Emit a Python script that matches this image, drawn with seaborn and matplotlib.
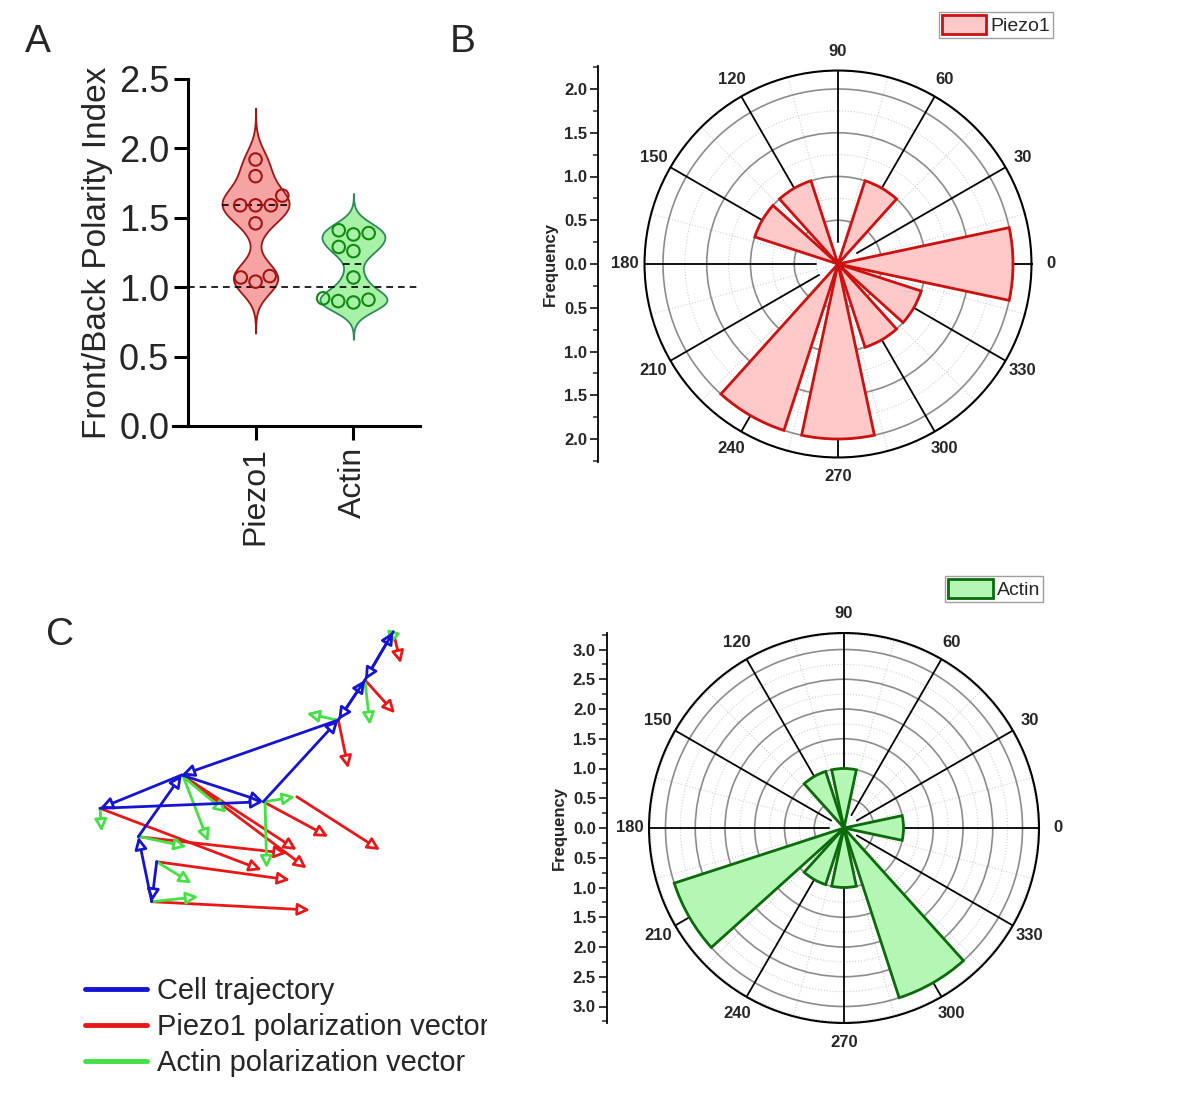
"""
Polarity figure: violin plot of front/back index, rose histograms of
polarization angles and a cell trajectory with polarization vectors.
"""
import numpy as np
import pandas as pd
import matplotlib
matplotlib.use("Agg")
import matplotlib.pyplot as plt
from matplotlib.lines import Line2D
from matplotlib.ticker import MultipleLocator, FuncFormatter
import seaborn as sns

OUTPUT_FILE = "out.png"
W, H, DPI = 1180, 1101, 100

sns.set_theme(style="ticks")
plt.rcParams['font.family'] = ['Liberation Sans', 'DejaVu Sans']

# --- Panel A: front/back polarity index per cell ---
groups = ["Piezo1", "Actin"]
piezo1_index = [1.92, 1.80, 1.66, 1.59, 1.59, 1.59, 1.46, 1.08, 1.07, 1.04]
actin_index = [1.41, 1.39, 1.38, 1.29, 1.26, 1.07, 0.92, 0.91, 0.90, 0.89]

# --- Panel B: rose histograms (bin centre in degrees, frequency) ---
angle_ticks = list(range(0, 360, 30))
piezo1_angles = [0, 60, 120, 150, 240, 270, 300, 330]
piezo1_freq = [2.0, 1.0, 1.0, 1.0, 2.0, 2.0, 1.0, 1.0]
actin_angles = [0, 90, 120, 210, 240, 270, 300]
actin_freq = [1.0, 1.0, 1.0, 3.0, 1.0, 1.0, 3.0]

# --- Panel C: trajectory and polarization vectors (image units, y down) ---
traj_x = [76.7, 71.7, 58.3, 101.7, 183.3, 258.3, 285.0, 313.3, 285.0, 258.3, 101.7, 20.0, 183.3]
traj_y = [241.7, 281.7, 216.7, 155.0, 181.7, 100.0, 60.0, 11.7, 60.0, 100.0, 155.0, 188.3, 181.7]

piezo1_x0 = [313.3, 285.0, 258.3, 101.7, 106.7, 183.3, 216.7, 20.0, 58.3, 76.7, 71.7]
piezo1_y0 = [11.7, 60.0, 100.0, 155.0, 158.3, 181.7, 176.7, 188.3, 216.7, 241.7, 281.7]
piezo1_x1 = [320.7, 315.0, 268.3, 216.7, 226.7, 248.3, 300.0, 181.7, 206.7, 210.0, 230.0]
piezo1_y1 = [43.3, 93.3, 148.3, 230.0, 248.3, 216.7, 230.0, 250.0, 233.3, 260.0, 290.0]

actin_x0 = [313.3, 285.0, 256.7, 103.3, 105.0, 185.0, 185.0, 20.0, 60.0, 76.7, 71.7]
actin_y0 = [13.3, 61.7, 100.0, 156.7, 158.3, 181.7, 181.7, 188.3, 216.7, 241.7, 281.7]
actin_x1 = [310.0, 290.0, 226.7, 128.3, 146.7, 186.7, 215.0, 21.7, 106.7, 111.7, 118.3]
actin_y1 = [25.0, 105.0, 93.3, 221.7, 192.7, 248.3, 176.7, 211.7, 226.7, 263.3, 276.7]

COLORS = {
    "Piezo1_violin": "#F5A3A3", "Piezo1_edge": "#A31515",
    "Actin_violin": "#A8F2A8", "Actin_edge": "#2E8B57", "Actin_dot": "#108A10",
    "Piezo1_rose": "#FFC9C9", "Piezo1_rose_edge": "#CC1111",
    "Actin_rose": "#B4F7B4", "Actin_rose_edge": "#0B6B0B",
    "traj": "#1414D2", "red": "#E81818", "green": "#44E044",
}


def px_axes(fig, x0, y0, x1, y1, **kw):
    """Add axes from pixel box (top-left origin)."""
    return fig.add_axes([x0 / W, 1 - y1 / H, (x1 - x0) / W, (y1 - y0) / H], **kw)


fig = plt.figure(figsize=(W / DPI, H / DPI), dpi=DPI)

# ---------------- Panel A ----------------
axA = px_axes(fig, 188, 79, 420, 426)
df = pd.DataFrame({"group": ["Piezo1"] * len(piezo1_index) + ["Actin"] * len(actin_index),
                   "index": piezo1_index + actin_index})
sns.violinplot(data=df, x="group", y="index", hue="group", order=groups, hue_order=groups,
               palette={"Piezo1": COLORS["Piezo1_violin"], "Actin": COLORS["Actin_violin"]},
               inner="quart", density_norm="width", width=0.686, bw_adjust=0.55, cut=3.4,
               linewidth=1.3, saturation=1, legend=False, ax=axA)
for coll, ec in zip(axA.collections[:2], [COLORS["Piezo1_edge"], COLORS["Actin_edge"]]):
    coll.set_edgecolor(ec)
# keep only the median line of each violin
for i, ln in enumerate(list(axA.lines)):
    if i % 3 != 1:
        ln.remove()
    else:
        ln.set_color("black")
        ln.set_linestyle((0, (4, 3)))
        ln.set_linewidth(1.2)

n_before = len(axA.collections)
sns.swarmplot(data=df, x="group", y="index", hue="group", order=groups, hue_order=groups,
              palette={"Piezo1": COLORS["Piezo1_edge"], "Actin": COLORS["Actin_dot"]},
              size=9, legend=False, ax=axA)
for coll, ec in zip(axA.collections[n_before:], [COLORS["Piezo1_edge"], COLORS["Actin_dot"]]):
    coll.set_facecolor("none")
    coll.set_edgecolor(ec)
    coll.set_linewidth(1.5)

axA.axhline(1.0, color="black", ls=(0, (4, 3)), lw=1.2, zorder=2.5)
axA.set_ylim(0, 2.5)
axA.set_xlim(-0.69, 1.68)
axA.yaxis.set_major_locator(MultipleLocator(0.5))
axA.yaxis.set_major_formatter(FuncFormatter(lambda v, p: f"{v:.1f}"))
axA.set_xlabel("")
axA.set_ylabel("Front/Back Polarity Index", fontsize=24)
axA.tick_params(axis="both", length=10, width=2.2, color="black")
axA.tick_params(axis="y", labelsize=26)
axA.tick_params(axis="x", rotation=90, labelsize=23, pad=5)
sns.despine(ax=axA)
for s in ["left", "bottom"]:
    axA.spines[s].set_linewidth(2.2)
    axA.spines[s].set_color("black")
axA.spines["bottom"].set_bounds(-0.84, 1.68)


# ---------------- Rose histograms ----------------
def rose(cx, cy, ppu, rmax, fmax, axis_x, angles, freq, face, edge, label, leg_xy):
    R = rmax * ppu
    ax = px_axes(fig, cx - R, cy - R, cx + R, cy + R, projection="polar")
    ax.set_theta_zero_location("E")
    ax.set_ylim(0, rmax)
    bars = ax.bar(np.radians(angles), freq, width=np.radians(24), color=face,
                  edgecolor=edge, linewidth=2, zorder=3)
    ax.set_xticks(np.radians(angle_ticks))
    ax.set_xticklabels([str(a) for a in angle_ticks], fontsize=12, fontweight="bold")
    ax.set_xticks(np.radians(np.arange(15, 360, 30)), minor=True)
    top = np.floor(rmax * 2) / 2
    ax.set_yticks(np.arange(0.5, top + 0.01, 0.5))
    ax.set_yticks(np.arange(0.25, rmax, 0.5), minor=True)
    ax.set_yticklabels([])
    ax.grid(False)
    ax.yaxis.grid(True, which="major", color="#8c8c8c", lw=1.2, ls="-")
    ax.yaxis.grid(True, which="minor", color="#d0d0d0", lw=0.8, ls=":")
    ax.xaxis.grid(True, which="minor", color="#d0d0d0", lw=0.8, ls=":")
    for a in angle_ticks:
        ax.plot([np.radians(a)] * 2, [0.25, rmax], color="black", lw=1.3, zorder=2)
    ax.tick_params(axis="x", which="major", pad=7, length=0)
    ax.tick_params(axis="x", which="minor", length=5, width=1.2, direction="in", color="black")
    ax.tick_params(axis="y", length=0)
    ax.spines["polar"].set_linewidth(1.5)
    ax.spines["polar"].set_color("black")

    # left frequency axis mirrored about the centre
    fax = px_axes(fig, axis_x, cy - fmax * ppu, axis_x + 1, cy + fmax * ppu)
    fax.set_ylim(-fmax, fmax)
    fax.set_xticks([])
    fax.yaxis.set_major_locator(MultipleLocator(0.5))
    fax.yaxis.set_minor_locator(MultipleLocator(0.25))
    fax.yaxis.set_major_formatter(FuncFormatter(lambda v, p: f"{abs(v):.1f}"))
    fax.tick_params(axis="y", which="major", length=6, width=1.3, labelsize=12, pad=2)
    fax.tick_params(axis="y", which="minor", length=3.5, width=1.1)
    plt.setp(fax.get_yticklabels(), fontweight="bold")
    for s in ["top", "right", "bottom"]:
        fax.spines[s].set_visible(False)
    fax.spines["left"].set_linewidth(1.3)
    fax.spines["left"].set_color("black")
    fax.patch.set_alpha(0)
    fax.set_ylabel("Frequency", fontsize=12, fontweight="bold", labelpad=4)

    ax.legend([bars], [label], loc="upper right",
              bbox_to_anchor=(leg_xy[0] / W, 1 - leg_xy[1] / H), bbox_transform=fig.transFigure,
              fancybox=False, edgecolor="#a0a0a0", framealpha=1, fontsize=14,
              borderpad=0.15, handlelength=2.3, handleheight=1.1, handletextpad=0.2,
              borderaxespad=0)
    return ax


rose(838, 264, 87.5, 2.211, 2.26, 598, piezo1_angles, piezo1_freq,
     COLORS["Piezo1_rose"], COLORS["Piezo1_rose_edge"], "Piezo1", (1053, 12))
rose(844, 828, 59.5, 3.277, 3.28, 607, actin_angles, actin_freq,
     COLORS["Actin_rose"], COLORS["Actin_rose_edge"], "Actin", (1043, 576))

# ---------------- Panel C ----------------
axC = px_axes(fig, 80, 600, 487, 1080)
axC.set_xlim(0, 407)
axC.set_ylim(460, -20)
axC.axis("off")

arrow_kw = dict(arrowstyle="-|>", mutation_scale=18, shrinkA=0, shrinkB=0, fc="white")
for x0, y0, x1, y1 in zip(piezo1_x0, piezo1_y0, piezo1_x1, piezo1_y1):
    axC.annotate("", xy=(x1, y1), xytext=(x0, y0),
                 arrowprops=dict(ec=COLORS["red"], lw=2.0, **arrow_kw))
for x0, y0, x1, y1 in zip(actin_x0, actin_y0, actin_x1, actin_y1):
    axC.annotate("", xy=(x1, y1), xytext=(x0, y0),
                 arrowprops=dict(ec=COLORS["green"], lw=2.0, **arrow_kw))
for i in range(len(traj_x) - 1):
    axC.annotate("", xy=(traj_x[i + 1], traj_y[i + 1]), xytext=(traj_x[i], traj_y[i]),
                 arrowprops=dict(ec=COLORS["traj"], lw=2.0, **arrow_kw))

handles = [Line2D([], [], color=COLORS[c], lw=3.5) for c in ["traj", "red", "green"]]
leg = axC.legend(handles, ["Cell trajectory", "Piezo1 polarization vector", "Actin polarization vector"],
                 loc="upper left", bbox_to_anchor=(85 / W, 1 - 977 / H), bbox_transform=fig.transFigure,
                 frameon=False, fontsize=20.9, handlelength=2.15, handletextpad=0.34,
                 labelspacing=0.27, borderpad=0, borderaxespad=0)
for t in leg.get_texts():
    t.set_clip_on(True)
    t.set_clip_box(axC.bbox)

# panel letters
for letter, (x, y) in {"A": (38, 42), "B": (463, 42), "C": (60, 635)}.items():
    fig.text(x / W, 1 - y / H, letter, fontsize=28, ha="center", va="center")

fig.savefig(OUTPUT_FILE, dpi=DPI)
plt.close(fig)
